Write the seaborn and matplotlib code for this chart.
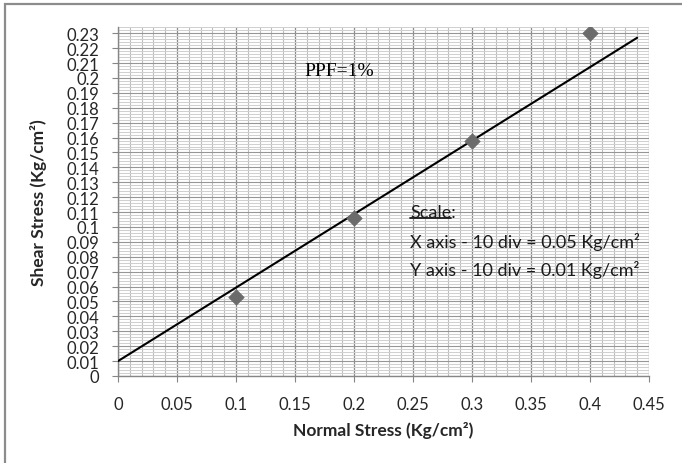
import numpy as np
import pandas as pd
import matplotlib
matplotlib.use("Agg")
import matplotlib.pyplot as plt
from matplotlib.ticker import MultipleLocator, FixedLocator, FixedFormatter
from matplotlib.lines import Line2D
from matplotlib.patches import Rectangle
import seaborn as sns

# =========================
# Data
# =========================
normal_stress = [0.1, 0.2, 0.3, 0.4]
shear_stress = [0.053, 0.106, 0.158, 0.23]

# straight line drawn through the points
line_x = [0.0, 0.44]
line_y = [0.01, 0.227]

x_ticks = [0, 0.05, 0.1, 0.15, 0.2, 0.25, 0.3, 0.35, 0.4, 0.45]
x_tick_labels = ["0", "0.05", "0.1", "0.15", "0.2", "0.25", "0.3", "0.35", "0.4", "0.45"]
y_ticks = [i / 100 for i in range(24)]
y_tick_labels = ["0"] + [f"{v:g}" for v in y_ticks[1:]]

ppf_label = "PPF=1%"
scale_title = "Scale:"
scale_lines = [
    "X axis - 10 div = 0.05 Kg/cm²",
    "Y axis - 10 div = 0.01 Kg/cm²",
]

df_points = pd.DataFrame({"normal": normal_stress, "shear": shear_stress})
df_line = pd.DataFrame({"normal": line_x, "shear": line_y})

# =========================
# Style
# =========================
sns.set_theme(style="white")
plt.rcParams["font.family"] = ["Lato", "DejaVu Sans"]

fig = plt.figure(figsize=(6.82, 4.64), dpi=100)
ax = fig.add_axes([118 / 682, 87 / 464, 531 / 682, 348.7 / 464])

# =========================
# Marks
# =========================
sns.lineplot(data=df_line, x="normal", y="shear", color="black",
             linewidth=1.5, ax=ax, zorder=3)
sns.scatterplot(data=df_points, x="normal", y="shear", marker="D", s=62,
                color="#6b6b6b", edgecolor="#6b6b6b", linewidth=0.5,
                ax=ax, zorder=4)

# =========================
# Axes, grid
# =========================
ax.set_xlim(0, 0.45)
ax.set_ylim(0, 0.234)

ax.xaxis.set_major_locator(FixedLocator(x_ticks))
ax.xaxis.set_major_formatter(FixedFormatter(x_tick_labels))
ax.yaxis.set_major_locator(FixedLocator(y_ticks))
ax.yaxis.set_major_formatter(FixedFormatter(y_tick_labels))
ax.xaxis.set_minor_locator(MultipleLocator(0.01))
ax.yaxis.set_minor_locator(MultipleLocator(0.002))

ax.set_axisbelow(True)
ax.grid(which="minor", axis="y", color="#d0d0d0", linewidth=0.75)
ax.grid(which="minor", axis="x", color="#bdbdbd", linewidth=0.8)
ax.grid(which="major", axis="y", color="#969696", linewidth=0.8)
ax.grid(which="major", axis="x", color="#8a8a8a", linewidth=0.9)

for side in ["top", "right"]:
    ax.spines[side].set_visible(False)
for side in ["left", "bottom"]:
    ax.spines[side].set_color("#868686")
    ax.spines[side].set_linewidth(1.0)

ax.tick_params(which="major", direction="out", length=4.5, width=0.8,
               color="#868686", labelsize=12, labelcolor="#262626",
               left=True, bottom=True)
ax.tick_params(axis="y", pad=9)
ax.tick_params(axis="x", pad=10)
ax.tick_params(which="minor", length=0)

ax.set_xlabel("Normal Stress (Kg/cm²)", fontsize=12.5, fontweight="bold",
              color="#262626")
ax.set_ylabel("Shear Stress (Kg/cm²)", fontsize=12.5, fontweight="bold",
              color="#262626")
ax.xaxis.set_label_coords(0.5, -0.13)
ax.yaxis.set_label_coords(-0.134, 0.5)

# =========================
# Annotations
# =========================
ax.text(0.158, 0.2047, ppf_label, fontsize=14, family="Liberation Serif",
        va="center", ha="left", color="black")

scale_txt = ax.text(0.2475, 0.110, scale_title, fontsize=13, va="center",
                    ha="left", color="#1a1a1a")
scale_word = ax.text(0.2475, 0.110, scale_title[:-1], fontsize=13,
                     va="center", ha="left", alpha=0)
for i, line in enumerate(scale_lines):
    ax.text(0.2475, 0.0906 - i * 0.0188, line, fontsize=13, va="center",
            ha="left", color="#1a1a1a")

# underline under "Scale"
fig.canvas.draw()
bb = scale_word.get_window_extent(fig.canvas.get_renderer())
W, H = fig.canvas.get_width_height()
fig.add_artist(Line2D([bb.x0 / W, bb.x1 / W], [(bb.y0 + 2) / H, (bb.y0 + 2) / H],
                      transform=fig.transFigure, color="#1a1a1a", linewidth=1.3))

# =========================
# Outer frame (cropped chart border)
# =========================
fig.patches.append(Rectangle((5 / 682, -0.1), 1.2, 1.1 - 5 / 464,
                             transform=fig.transFigure, fill=False,
                             edgecolor="#8c8c8c", linewidth=1.6))

plt.savefig("out.png", dpi=100)
